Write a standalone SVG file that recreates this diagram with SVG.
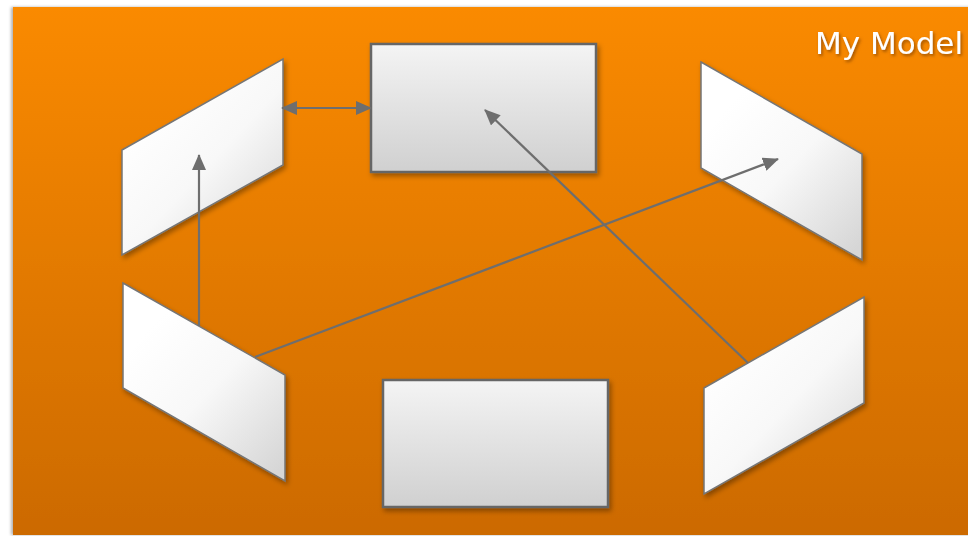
<svg xmlns="http://www.w3.org/2000/svg" width="968" height="536" viewBox="0 0 968 536">
  <defs>
    <linearGradient id="bg" x1="0" y1="0" x2="0" y2="1">
      <stop offset="0" stop-color="#fa8a00"/>
      <stop offset="1" stop-color="#cc6a00"/>
    </linearGradient>
    <linearGradient id="boxFill" x1="0" y1="0" x2="0" y2="1">
      <stop offset="0" stop-color="#f4f4f4"/>
      <stop offset="1" stop-color="#d0d0d0"/>
    </linearGradient>
    <linearGradient id="panelFill" x1="0.2" y1="0.2" x2="0.9" y2="1">
      <stop offset="0" stop-color="#ffffff"/>
      <stop offset="0.45" stop-color="#f8f8f8"/>
      <stop offset="1" stop-color="#d6d6d6"/>
    </linearGradient>
    <filter id="shadow" x="-20%" y="-20%" width="140%" height="140%">
      <feDropShadow dx="2" dy="3" stdDeviation="2.5" flood-color="#000" flood-opacity="0.35"/>
    </filter>
    <filter id="bgShadow" x="-5%" y="-5%" width="110%" height="110%">
      <feDropShadow dx="-2" dy="0" stdDeviation="1.5" flood-color="#000" flood-opacity="0.3"/>
    </filter>
    <filter id="textShadow" x="-10%" y="-30%" width="120%" height="160%">
      <feDropShadow dx="1.5" dy="2" stdDeviation="1.5" flood-color="#7a3a00" flood-opacity="0.7"/>
    </filter>
    <!-- arrowhead: 16 long, 14 wide, drawn in user units -->
    <marker id="arrow" viewBox="0 0 16 14" refX="15" refY="7" markerWidth="16" markerHeight="14" markerUnits="userSpaceOnUse" orient="auto-start-reverse">
      <path d="M0,0 L16,7 L0,14 z" fill="#6e6e6e"/>
    </marker>
  </defs>
  <style>
    .box { fill: url(#boxFill); stroke: #666; stroke-width: 2.5; filter: url(#shadow); }
    .panel { fill: url(#panelFill); stroke: #767676; stroke-width: 1.5; filter: url(#shadow); }
    .link { fill: none; stroke: #6e6e6e; stroke-width: 2.2; }
    .title { font-family: "DejaVu Sans", Verdana, sans-serif; font-size: 31px; fill: #ffffff; }
  </style>

  <rect x="0" y="0" width="968" height="536" fill="#ffffff"/>
  <rect x="13" y="7" width="960" height="528" fill="url(#bg)" filter="url(#bgShadow)"/>

  <text class="title" x="815" y="54" filter="url(#textShadow)">My Model</text>

  <g id="node-top">
    <rect class="box" x="371" y="44" width="225" height="128"/>
  </g>
  <g id="node-bottom">
    <rect class="box" x="383" y="380" width="225" height="127"/>
  </g>
  <g id="node-top-left">
    <polygon class="panel" points="122,150 283,59 283,165 122,255"/>
  </g>
  <g id="node-top-right">
    <polygon class="panel" points="701,62 862,154 862,260 701,168"/>
  </g>
  <g id="node-bottom-left">
    <polygon class="panel" points="123,283 285,375 285,481 123,388"/>
  </g>
  <g id="node-bottom-right">
    <polygon class="panel" points="704,388 864,297 864,403 704,494"/>
  </g>

  <g id="connectors">
    <line class="link" x1="282" y1="108" x2="371" y2="108" marker-start="url(#arrow)" marker-end="url(#arrow)"/>
    <line class="link" x1="199" y1="326" x2="199" y2="155" marker-end="url(#arrow)"/>
    <line class="link" x1="255" y1="357" x2="778" y2="159" marker-end="url(#arrow)"/>
    <line class="link" x1="748" y1="363" x2="485" y2="110" marker-end="url(#arrow)"/>
  </g>
</svg>
